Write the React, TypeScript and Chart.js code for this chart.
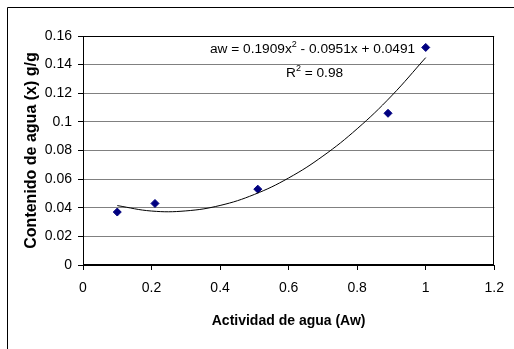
import React, { useEffect, useRef } from "react";
import { Chart, registerables } from "chart.js";

Chart.register(...registerables);

// ---- data ----
const xTickValues = [0, 0.2, 0.4, 0.6, 0.8, 1, 1.2];
const yTickValues = [0, 0.02, 0.04, 0.06, 0.08, 0.1, 0.12, 0.14, 0.16];
const awValues = [0.1, 0.21, 0.51, 0.89, 1.0];
const waterContent = [0.037, 0.043, 0.053, 0.106, 0.152];
const trendAw = [0.1, 0.2, 0.3, 0.4, 0.5, 0.6, 0.7, 0.8, 0.9, 1.0];
const trendContent = [0.0415, 0.0377, 0.0378, 0.0416, 0.0493, 0.0608, 0.0761, 0.0952, 0.1181, 0.1449];
const xTitle = "Actividad de agua (Aw)";
const yTitle = "Contenido de agua (x) g/g";
const eqPart1 = "aw = 0.1909x";
const eqPart2 = " - 0.0951x + 0.0491";
const r2Part1 = "R";
const r2Part2 = " = 0.98";
const supText = "2";

const FONT = "'Liberation Sans', Arial, sans-serif";

const fmt = (v: number) => String(Math.round(v * 100) / 100);

const framePlugin = {
  id: "frame",
  beforeDraw(chart: any) {
    const ctx = chart.ctx;
    ctx.save();
    ctx.strokeStyle = "#000";
    ctx.lineWidth = 1;
    ctx.beginPath();
    ctx.moveTo(7.5, chart.height);
    ctx.lineTo(7.5, 7.5);
    ctx.lineTo(chart.width, 7.5);
    ctx.stroke();
    ctx.restore();
  },
  afterDraw(chart: any) {
    const { ctx, chartArea } = chart;
    ctx.save();
    ctx.strokeStyle = "#000";
    ctx.lineWidth = 1;
    ctx.strokeRect(
      Math.round(chartArea.left) + 0.5,
      Math.round(chartArea.top) + 0.5,
      Math.round(chartArea.right - chartArea.left) - 1,
      Math.round(chartArea.bottom - chartArea.top) - 1
    );

    // trendline equation
    const drawSup = (x: number, y: number, a: string, b: string) => {
      ctx.font = `13.7px ${FONT}`;
      ctx.textBaseline = "alphabetic";
      ctx.textAlign = "left";
      ctx.fillStyle = "#000";
      ctx.fillText(a, x, y);
      let cx = x + ctx.measureText(a).width;
      ctx.font = `9px ${FONT}`;
      ctx.fillText(supText, cx, y - 6);
      cx += ctx.measureText(supText).width;
      ctx.font = `13.7px ${FONT}`;
      ctx.fillText(b, cx, y);
    };
    const l = chartArea.left;
    const t = chartArea.top;
    drawSup(l + 127, t + 17, eqPart1, eqPart2);
    drawSup(l + 203, t + 41, r2Part1, r2Part2);
    ctx.restore();
  },
};

export default function App() {
  const ref = useRef<HTMLCanvasElement | null>(null);

  useEffect(() => {
    if (!ref.current) return;
    const chart = new Chart(ref.current, {
      type: "scatter",
      data: {
        datasets: [
          {
            type: "line",
            data: trendAw.map((x, i) => ({ x, y: trendContent[i] })),
            borderColor: "#000",
            borderWidth: 1,
            pointRadius: 0,
            tension: 0.4,
            fill: false,
          } as any,
          {
            data: awValues.map((x, i) => ({ x, y: waterContent[i] })),
            pointStyle: "rectRot",
            pointRadius: 4,
            backgroundColor: "#000080",
            borderColor: "#000080",
            borderWidth: 1,
          },
        ],
      },
      plugins: [framePlugin],
      options: {
        responsive: false,
        animation: false,
        layout: { padding: { left: 0, top: 36, right: 17, bottom: 0 } },
        plugins: {
          legend: { display: false },
          tooltip: { enabled: false },
        },
        scales: {
          x: {
            type: "linear",
            min: 0,
            max: 1.2,
            afterBuildTicks: (s: any) => {
              s.ticks = xTickValues.map((v) => ({ value: v }));
            },
            afterFit: (s: any) => {
              s.height = 84;
            },
            ticks: {
              color: "#000",
              font: { family: FONT, size: 14 },
              padding: 10,
              maxRotation: 0,
              callback: (v: any) => fmt(Number(v)),
            },
            grid: {
              drawOnChartArea: false,
              drawTicks: true,
              tickLength: 5,
              tickColor: "#000",
            },
            border: { display: true, color: "#000", width: 1 },
            title: {
              display: true,
              text: xTitle,
              color: "#000",
              font: { family: FONT, size: 14, weight: "bold" },
              padding: { top: 0, bottom: 19 },
            },
          },
          y: {
            type: "linear",
            min: 0,
            max: 0.16,
            afterBuildTicks: (s: any) => {
              s.ticks = yTickValues.map((v) => ({ value: v }));
            },
            afterFit: (s: any) => {
              s.width = 83;
            },
            ticks: {
              color: "#000",
              font: { family: FONT, size: 14 },
              padding: 6,
              callback: (v: any) => fmt(Number(v)),
            },
            grid: {
              color: "#808080",
              lineWidth: 1,
              drawTicks: true,
              tickLength: 5,
              tickColor: "#000",
            },
            border: { display: true, color: "#000", width: 1 },
            title: {
              display: true,
              text: yTitle,
              color: "#000",
              font: { family: FONT, size: 16, weight: "bold" },
              padding: { top: 22, bottom: 0 },
            },
          },
        },
      },
    } as any);
    return () => chart.destroy();
  }, []);

  return (
    <div style={{ position: "fixed", left: 0, top: 0, width: 514, height: 349, background: "#fff" }}>
      <canvas ref={ref} width={514} height={349} style={{ width: 514, height: 349, display: "block" }} />
    </div>
  );
}
